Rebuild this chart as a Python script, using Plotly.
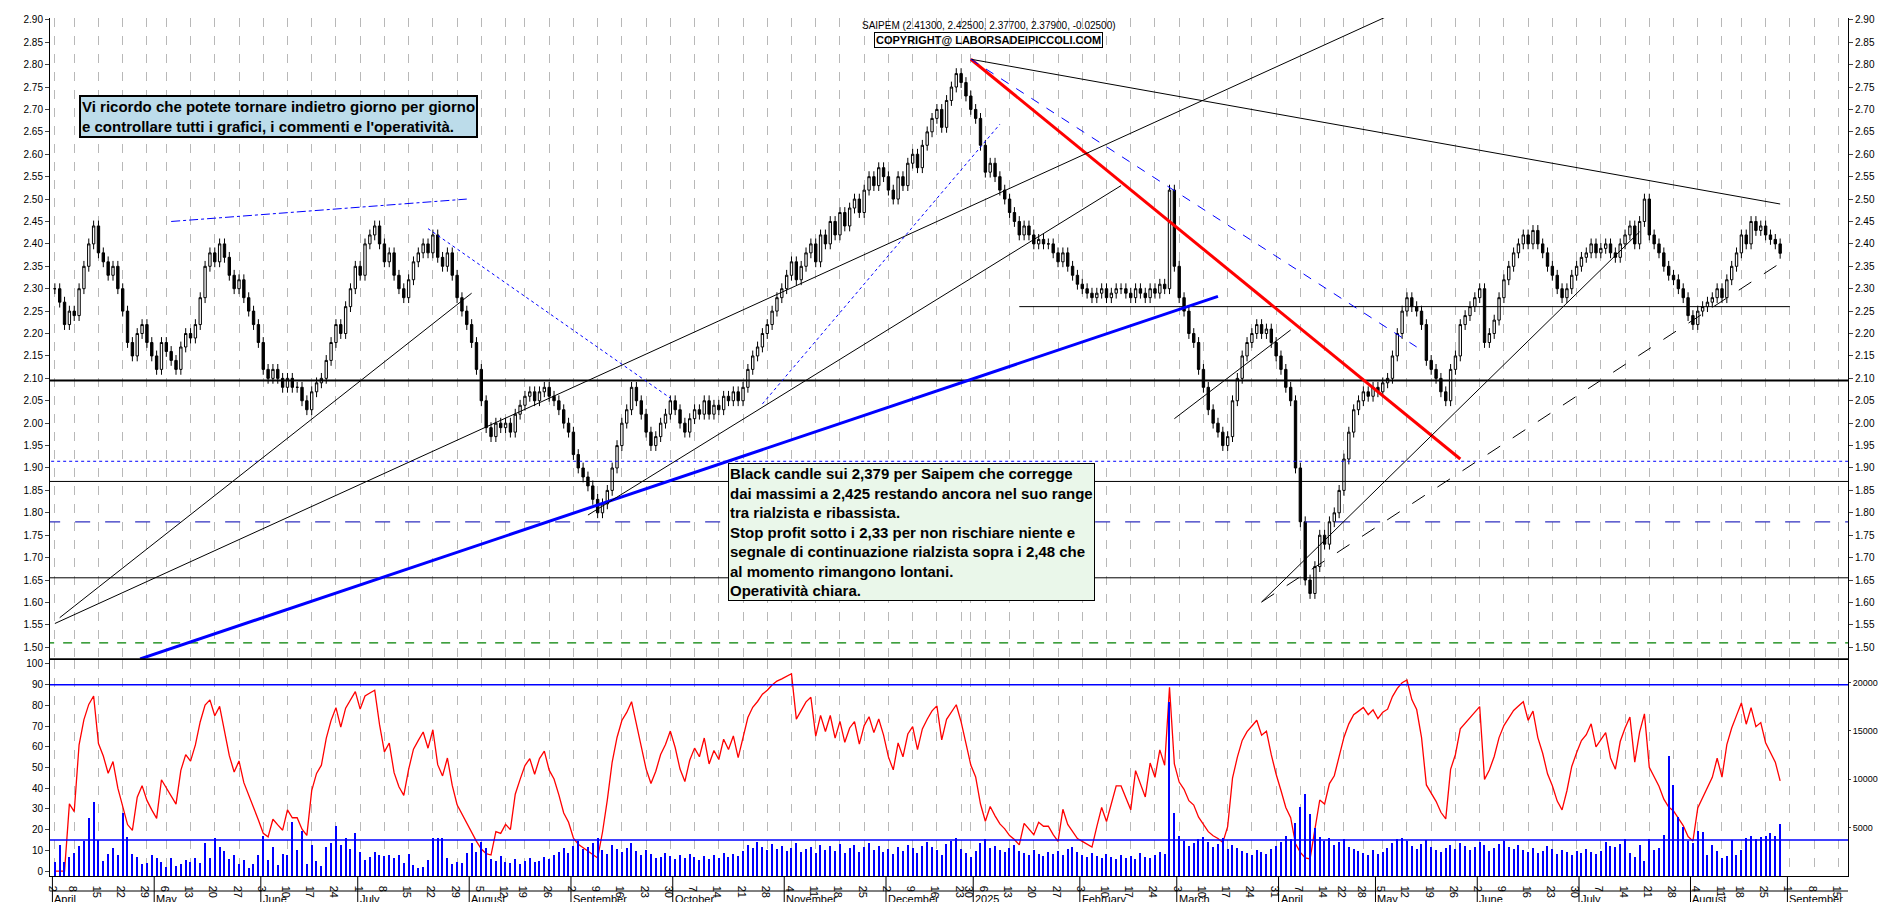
import numpy as np
import pandas as pd
import plotly.graph_objects as go

# daily closes, Apr 2024 -> Sep 2025
closes = [
    2.30, 2.27, 2.22, 2.25, 2.24, 2.30, 2.35, 2.40, 2.44, 2.38, 2.36, 2.33, 2.35, 2.30, 2.25, 2.18, 2.15, 2.20, 2.22, 2.18,
    2.15, 2.12, 2.18, 2.16, 2.14, 2.12, 2.17, 2.20, 2.19, 2.22, 2.28, 2.35, 2.38, 2.36, 2.40, 2.37, 2.33, 2.30, 2.32, 2.28,
    2.25, 2.22, 2.18, 2.12, 2.10, 2.12, 2.10, 2.08, 2.10, 2.08, 2.08, 2.05, 2.03, 2.07, 2.09, 2.10, 2.14, 2.18, 2.22, 2.20,
    2.26, 2.30, 2.35, 2.33, 2.40, 2.42, 2.44, 2.40, 2.36, 2.38, 2.33, 2.30, 2.28, 2.32, 2.36, 2.38, 2.40, 2.38, 2.42, 2.37,
    2.35, 2.38, 2.33, 2.28, 2.25, 2.22, 2.18, 2.12, 2.05, 1.99, 1.97, 2.00, 1.99, 2.00, 1.98, 2.02, 2.04, 2.06, 2.07, 2.05,
    2.07, 2.08, 2.06, 2.05, 2.03, 2.00, 1.98, 1.93, 1.90, 1.88, 1.86, 1.83, 1.80, 1.82, 1.85, 1.90, 1.95, 2.00, 2.03, 2.08,
    2.05, 2.02, 1.98, 1.95, 1.97, 2.00, 2.02, 2.05, 2.03, 2.00, 1.98, 2.01, 2.03, 2.02, 2.05, 2.02, 2.04, 2.03, 2.06, 2.05,
    2.07, 2.05, 2.08, 2.12, 2.15, 2.17, 2.20, 2.22, 2.25, 2.28, 2.30, 2.33, 2.36, 2.32, 2.35, 2.38, 2.40, 2.36, 2.42, 2.40,
    2.45, 2.42, 2.47, 2.44, 2.48, 2.50, 2.47, 2.52, 2.55, 2.53, 2.57, 2.55, 2.52, 2.50, 2.55, 2.53, 2.58, 2.60, 2.57, 2.62,
    2.65, 2.68, 2.70, 2.66, 2.72, 2.75, 2.78, 2.76, 2.73, 2.70, 2.68, 2.62, 2.56, 2.58, 2.55, 2.52, 2.50, 2.47, 2.45, 2.42,
    2.44, 2.42, 2.40, 2.41, 2.40, 2.40, 2.38, 2.36, 2.38, 2.35, 2.33, 2.31, 2.30, 2.29, 2.28, 2.29, 2.30, 2.28, 2.29, 2.30,
    2.30, 2.29, 2.28, 2.30, 2.29, 2.28, 2.30, 2.29, 2.31, 2.30, 2.52, 2.35, 2.28, 2.25, 2.20, 2.18, 2.12, 2.08, 2.03, 2.00,
    1.98, 1.95, 1.97, 2.05, 2.10, 2.15, 2.18, 2.20, 2.22, 2.20, 2.21, 2.18, 2.15, 2.12, 2.08, 2.05, 1.90, 1.78, 1.65, 1.62,
    1.68, 1.75, 1.73, 1.78, 1.80, 1.85, 1.92, 1.98, 2.03, 2.05, 2.07, 2.06, 2.08, 2.07, 2.09, 2.10, 2.15, 2.20, 2.25, 2.28,
    2.26, 2.25, 2.22, 2.14, 2.12, 2.10, 2.07, 2.05, 2.12, 2.15, 2.22, 2.24, 2.26, 2.28, 2.30, 2.18, 2.20, 2.23, 2.28, 2.32,
    2.35, 2.38, 2.40, 2.42, 2.40, 2.43, 2.40, 2.38, 2.35, 2.33, 2.30, 2.28, 2.30, 2.33, 2.35, 2.37, 2.38, 2.40, 2.38, 2.39,
    2.40, 2.38, 2.37, 2.40, 2.42, 2.44, 2.40, 2.45, 2.50, 2.42, 2.40, 2.38, 2.35, 2.33, 2.32, 2.30, 2.28, 2.24, 2.22, 2.25,
    2.26, 2.27, 2.28, 2.30, 2.28, 2.32, 2.35, 2.38, 2.42, 2.40, 2.45, 2.43, 2.44, 2.42, 2.41, 2.40, 2.379,
]

# volume in thousands of shares
volumes = [
    1.5, 3.2, 1.5, 2.0, 2.4, 3.1, 3.6, 6.0, 7.7, 3.7, 1.6, 2.3, 2.9, 2.2, 6.5, 4.1, 2.3, 2.0, 1.3, 1.4,
    2.2, 1.9, 1.5, 1.0, 1.9, 1.1, 1.3, 1.7, 1.5, 1.9, 1.4, 3.4, 1.9, 3.9, 3.0, 2.6, 1.8, 2.2, 1.3, 1.7,
    0.9, 1.3, 2.2, 4.2, 1.7, 3.0, 1.2, 2.3, 2.2, 5.6, 2.7, 4.7, 1.3, 3.2, 1.6, 1.1, 3.0, 3.4, 5.2, 3.2,
    4.0, 2.8, 4.5, 2.5, 1.7, 2.0, 2.5, 2.2, 2.1, 2.2, 1.9, 2.2, 1.4, 2.3, 1.2, 0.9, 1.0, 1.7, 3.9, 4.0,
    3.9, 1.9, 1.3, 1.5, 1.4, 2.4, 3.4, 2.5, 3.5, 2.9, 1.8, 1.6, 2.1, 1.5, 1.4, 1.8, 1.3, 1.6, 1.9, 1.5,
    1.6, 2.0, 1.8, 2.2, 2.5, 2.9, 2.4, 3.1, 3.6, 2.8, 3.0, 3.4, 3.9, 2.7, 2.3, 3.2, 2.8, 2.5, 2.9, 3.4,
    2.6, 2.2, 2.7, 2.3, 1.9, 2.0, 2.4, 2.1, 1.8, 2.2, 1.9, 2.3, 2.0, 1.7, 2.1, 1.8, 2.2, 1.9, 2.4, 2.0,
    2.3, 2.1, 2.6, 3.2, 2.9, 3.5, 3.0, 2.7, 3.3, 2.8, 3.1, 2.6, 2.9, 3.4, 2.5, 2.8, 3.0, 2.4, 3.2, 2.7,
    3.1, 2.6, 3.3, 2.4, 2.9, 3.2, 2.5, 3.0, 3.4, 2.7, 3.1, 2.5, 2.8, 2.3, 3.0, 2.6, 3.2, 2.9, 2.4, 3.1,
    3.5, 3.0, 2.7, 2.2, 3.3, 3.6, 3.9, 2.8, 2.4, 2.0, 2.6, 3.4, 3.8, 2.9, 3.1, 2.7, 2.5, 2.9, 3.2, 2.6,
    2.4, 2.2, 2.7, 2.3, 2.1, 2.5, 2.3, 2.6, 2.2, 2.8, 3.0, 2.5, 2.2, 2.0, 2.4, 2.1, 1.9, 2.3, 2.0, 1.8,
    2.2, 1.9, 2.1, 1.8, 2.4, 2.0, 1.9, 2.2, 2.5, 2.3, 18.0, 6.5, 4.2, 3.6, 3.1, 3.4, 3.8, 4.1, 3.5, 3.0,
    3.3, 3.9, 2.8, 3.2, 2.9, 2.6, 2.4, 2.2, 2.7, 2.5, 2.3, 2.8, 3.1, 3.5, 4.2, 3.8, 5.5, 7.2, 8.5, 6.4,
    5.0, 4.1, 3.6, 3.9, 3.2, 3.5, 3.8, 3.0, 2.8, 2.6, 2.4, 2.2, 2.7, 2.3, 2.5, 2.9, 3.4, 3.8, 4.0, 3.6,
    3.1, 2.8, 3.3, 3.7, 3.0, 2.7, 2.5, 2.9, 3.2, 2.8, 3.4, 3.1, 2.7, 3.0, 3.5, 3.2, 2.6, 2.9, 3.3, 3.6,
    3.0, 2.8, 3.2, 2.7, 2.5, 2.9, 2.4, 2.6, 3.1, 2.8, 2.3, 2.7, 2.5, 2.2, 2.6, 2.4, 2.8, 2.5, 2.3, 2.6,
    3.5, 3.1, 3.0, 3.3, 3.8, 2.4, 2.0, 3.2, 1.6, 3.8, 2.7, 2.9, 4.3, 12.4, 9.4, 6.1, 5.1, 3.6, 3.4, 4.7,
    4.6, 2.2, 3.2, 2.6, 1.9, 2.1, 3.7, 2.2, 2.7, 4.0, 4.2, 3.8, 4.1, 4.2, 4.5, 4.2, 5.4, 2.3, 3.0, 3.5, 0.8,
]

holidays = ["2024-05-01", "2024-08-15", "2024-12-24", "2024-12-25", "2024-12-26", "2024-12-31",
            "2025-01-01", "2025-04-18", "2025-04-21", "2025-05-01", "2025-08-15"]
months_it = ["January", "February", "March", "April", "May", "June", "July",
             "August", "September", "October", "November", "December"]

all_days = pd.bdate_range("2024-04-02", "2025-09-19")
all_days = all_days[~all_days.isin(pd.to_datetime(holidays))]
n = min(len(closes), len(volumes))
closes = closes[:n]
volumes = volumes[:n]
idx = np.arange(n)

c = np.array(closes)
o = np.r_[c[0], c[:-1]]
hi = np.maximum(o, c) + 0.012
lo = np.minimum(o, c) - 0.012

# RSI (6), Wilder smoothing
d = np.diff(c, prepend=c[0])
up = pd.Series(np.clip(d, 0, None)).ewm(alpha=1 / 6, adjust=False).mean()
dn = pd.Series(np.clip(-d, 0, None)).ewm(alpha=1 / 6, adjust=False).mean()
rsi = 100 - 100 / (1 + up / dn.replace(0, 1e-9))

# weekly ticks and month labels
tickvals, ticktext = [], []
month_pos = []
prev_week, prev_month = None, None
for i, day in enumerate(all_days):
    wk = day.isocalendar()[1]
    if wk != prev_week:
        tickvals.append(i)
        ticktext.append(str(day.day))
        prev_week = wk
    if day.month != prev_month:
        label = "2025" if (day.month == 1) else months_it[day.month - 1]
        month_pos.append((i, label))
        prev_month = day.month

fig = go.Figure()
fig.add_trace(go.Candlestick(
    x=idx, open=o, high=hi, low=lo, close=c,
    increasing=dict(line=dict(color="black", width=1), fillcolor="white"),
    decreasing=dict(line=dict(color="black", width=1), fillcolor="black"),
    whiskerwidth=0, xaxis="x", yaxis="y", hoverinfo="skip"))
fig.add_trace(go.Scatter(x=[0], y=[2.0], yaxis="y5", mode="markers",
                         marker=dict(opacity=0), hoverinfo="skip"))
fig.add_trace(go.Bar(x=idx, y=np.array(volumes) * 1000, yaxis="y4", xaxis="x",
                     marker=dict(color="blue", line=dict(width=0)), width=0.25))
fig.add_trace(go.Scatter(x=idx, y=rsi, yaxis="y3", xaxis="x", mode="lines",
                         line=dict(color="red", width=1.3)))

# (x0, y0, x1, y1, color, width, dash)
lines = [
    (-2, 2.095, 380, 2.095, "black", 2, "solid"),
    (199, 2.26, 358, 2.26, "black", 1, "solid"),
    (-2, 1.915, 380, 1.915, "blue", 1, "dot"),
    (-2, 1.87, 380, 1.87, "black", 1, "solid"),
    (-2, 1.78, 380, 1.78, "#3030c0", 1.3, "longdash"),
    (-2, 1.655, 380, 1.655, "black", 1, "solid"),
    (-2, 1.51, 380, 1.51, "green", 1.3, "dash"),
    (17.6, 1.474, 240, 2.283, "blue", 3, "solid"),
    (189, 2.812, 290, 1.92, "red", 3, "solid"),
    (0, 1.553, 277, 2.918, "black", 1, "solid"),
    (189, 2.812, 356, 2.489, "black", 1, "solid"),
    (189, 2.812, 281, 2.17, "blue", 1, "dash"),
    (249, 1.601, 327, 2.427, "black", 1, "solid"),
    (249, 1.601, 356, 2.357, "black", 1, "longdash"),
    (1, 1.566, 86, 2.29, "black", 1, "solid"),
    (110, 1.795, 220, 2.53, "black", 1, "solid"),
    (231, 2.01, 255, 2.208, "black", 1, "solid"),
    (24, 2.45, 85, 2.50, "blue", 1, "dashdot"),
    (77, 2.434, 127, 2.056, "blue", 1, "dot"),
    (146, 2.043, 195, 2.667, "blue", 1, "dot"),
]
for x0, y0, x1, y1, col, w, dash in lines:
    fig.add_shape(type="line", x0=x0, y0=y0, x1=x1, y1=y1, xref="x", yref="y",
                  line=dict(color=col, width=w, dash=dash))
for yv in (90, 15):
    fig.add_shape(type="line", x0=0, x1=1, xref="paper", y0=yv, y1=yv, yref="y3",
                  line=dict(color="blue", width=1.5))
fig.add_shape(type="line", x0=0, x1=1, xref="paper", y0=0.253, y1=0.253, yref="paper",
              line=dict(color="black", width=1.5))

fig.add_annotation(x=0.016, y=0.885, xref="paper", yref="paper", xanchor="left", yanchor="middle",
                   text="<b>Vi ricordo che potete tornare indietro giorno per giorno<br>"
                        "e controllare tutti i grafici, i commenti e l'operatività.</b>",
                   showarrow=False, align="left", bgcolor="#bcdcea", bordercolor="black",
                   borderwidth=2, font=dict(size=15, color="black"))
fig.add_annotation(x=0.377, y=0.481, xref="paper", yref="paper", xanchor="left", yanchor="top",
                   text="<b>Black candle sui 2,379 per Saipem che corregge<br>"
                        "dai massimi a 2,425 restando ancora nel suo range<br>"
                        "tra rialzista e ribassista.<br>"
                        "Stop profit sotto i 2,33 per non rischiare niente e<br>"
                        "segnale di continuazione rialzista sopra i 2,48 che<br>"
                        "al momento rimangono lontani.<br>"
                        "Operatività chiara.</b>",
                   showarrow=False, align="left", bgcolor="#eaf7ea", bordercolor="black",
                   borderwidth=1, font=dict(size=15, color="black"))
fig.add_annotation(x=0.522, y=1.0, xref="paper", yref="paper", yanchor="top", showarrow=False,
                   text="SAIPEM (2.41300, 2.42500, 2.37700, 2.37900, -0.02500)",
                   font=dict(size=10, color="black"))
fig.add_annotation(x=0.522, y=0.984, xref="paper", yref="paper", yanchor="top", showarrow=False,
                   text="<b>COPYRIGHT@ LABORSADEIPICCOLI.COM</b>", bordercolor="black",
                   borderwidth=1, borderpad=1, font=dict(size=11, color="black"))

sep = -0.0175
for i, label in month_pos:
    fig.add_annotation(x=i - 0.5, y=sep, xref="x", yref="paper", xanchor="left", yanchor="top",
                       text=label, showarrow=False, font=dict(size=11, color="black"))
    fig.add_shape(type="line", x0=i - 0.5, x1=i - 0.5, xref="x", y0=-0.04, y1=0, yref="paper",
                  line=dict(color="black", width=1))
fig.add_shape(type="line", x0=0, x1=1, xref="paper", y0=sep, y1=sep, yref="paper",
              line=dict(color="black", width=1))

axis_font = dict(family="Liberation Sans", size=10, color="black")
price_ticks = [round(1.5 + 0.05 * k, 2) for k in range(29)]
price_range = [1.474, 2.904]
fig.update_layout(
    width=1890, height=902, showlegend=False,
    margin=dict(l=42, r=50, t=6, b=34),
    paper_bgcolor="white", plot_bgcolor="white",
    font=dict(family="Liberation Sans", color="black"),
    bargap=0,
    xaxis=dict(range=[-1, len(all_days) - 3], tickvals=tickvals, ticktext=ticktext,
               showgrid=True, gridcolor="#b8b8b8", griddash="dash", gridwidth=1,
               rangeslider=dict(visible=False),
               tickfont=dict(family="Liberation Sans", size=11, color="black"),
               ticks="", ticklabelstandoff=1,
               showline=True, linecolor="black", mirror=True, zeroline=False,
               anchor="y3"),
    yaxis=dict(domain=[0.253, 1], range=price_range, tickvals=price_ticks,
               tickformat=".2f", showgrid=False, tickfont=axis_font, ticks="outside",
               ticklen=4, showline=True, linecolor="black", mirror=True, zeroline=False),
    yaxis5=dict(overlaying="y", side="right", range=price_range, tickvals=price_ticks,
                tickformat=".2f", showgrid=False, tickfont=axis_font, ticks="outside",
                ticklen=4, zeroline=False),
    yaxis3=dict(domain=[0, 0.252], range=[-2.4, 102], tickvals=list(range(0, 101, 10)),
                showgrid=False, tickfont=axis_font, ticks="outside", ticklen=4,
                showline=True, linecolor="black", mirror=True, zeroline=False),
    yaxis4=dict(overlaying="y3", side="right", range=[0, 22350], tickformat="d",
                tickvals=[5000, 10000, 15000, 20000], showgrid=False,
                tickfont=dict(family="Liberation Sans", size=9, color="black"),
                ticks="outside", ticklen=2, zeroline=False),
)

fig.write_html("out.html")
